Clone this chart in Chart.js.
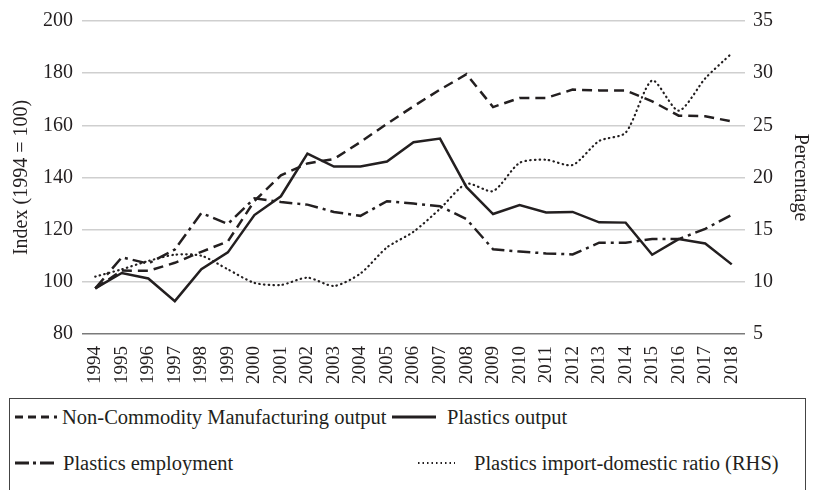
<!DOCTYPE html>
<html>
<head>
<meta charset="utf-8">
<script src="https://cdn.jsdelivr.net/npm/chart.js@4"></script>
<style>
  body { margin: 0; background: #fff; font-family: 'Liberation Serif', 'DejaVu Serif', serif; color: #231f20; }
  #wrap { position: relative; width: 817px; height: 490px; overflow: hidden; }
  #legend {
    position: absolute; left: 9px; top: 398px; width: 797px; height: 100px;
    border: 1.5px solid #444; box-sizing: border-box; font-size: 20.5px;
  }
  .item { position: absolute; white-space: nowrap; line-height: 24px; }
  .item svg { position: absolute; top: 9px; }
  .item span { position: absolute; top: 0; }
</style>
</head>
<body>
<div id="wrap">
  <canvas id="chart" width="817" height="395"></canvas>
  <div id="legend">
    <div class="item" style="left:0; top:6px;">
      <svg style="left:5px" width="42" height="6"><line x1="0" y1="3" x2="42" y2="3" stroke="#231f20" stroke-width="3" stroke-dasharray="8,5"/></svg>
      <span style="left:52px">Non-Commodity Manufacturing output</span></div>
    <div class="item" style="left:0; top:6px;">
      <svg style="left:382px" width="44" height="6"><line x1="0" y1="3" x2="44" y2="3" stroke="#231f20" stroke-width="3"/></svg>
      <span style="left:437px">Plastics output</span></div>
    <div class="item" style="left:0; top:52px;">
      <svg style="left:5px" width="42" height="6"><line x1="0" y1="3" x2="42" y2="3" stroke="#231f20" stroke-width="3" stroke-dasharray="14,4,3,4"/></svg>
      <span style="left:53px">Plastics employment</span></div>
    <div class="item" style="left:0; top:52px;">
      <svg style="left:405px" width="42" height="6"><line x1="3" y1="3" x2="40" y2="3" stroke="#231f20" stroke-width="2" stroke-dasharray="1.5,3"/></svg>
      <span style="left:464px">Plastics import-domestic ratio (RHS)</span></div>
  </div>
</div>
<script>
// --- DATA ---
const years = ['1994','1995','1996','1997','1998','1999','2000','2001','2002','2003','2004','2005',
  '2006','2007','2008','2009','2010','2011','2012','2013','2014','2015','2016','2017','2018'];
const nonCommodityOutput = [97.5, 104.3, 104.2, 107.3, 111.5, 115.5, 131, 140.8, 145.4, 147.1, 153.6, 160.6,
  167.3, 173.7, 179.6, 167, 170.5, 170.5, 173.7, 173.4, 173.4, 169.2, 163.7, 163.5, 161.5];
const plasticsOutput = [97.5, 103.4, 101.3, 92.6, 104.8, 111.3, 125.6, 132.8, 149.2, 144.2, 144.2, 146.1,
  153.5, 154.9, 136.3, 126, 129.4, 126.6, 126.8, 122.8, 122.7, 110.4, 116.4, 114.7, 106.7];
const plasticsEmployment = [97.5, 109.4, 107, 112.4, 126.4, 122.2, 132, 130.6, 129.6, 126.8, 125.3, 130.9,
  130, 129, 124, 112.5, 111.6, 110.9, 110.5, 115, 115, 116.4, 116.4, 120.3, 125.7];
const importDomesticRatio = [10.5, 11.2, 12.0, 12.6, 12.5, 11.2, 9.9, 9.7, 10.4, 9.6, 10.8, 13.3,
  14.8, 17, 19.4, 18.7, 21.4, 21.7, 21.2, 23.5, 24.3, 29.3, 26.4, 29.5, 31.9];
const indexTicks = [80, 100, 120, 140, 160, 180, 200];
const pctTicks = [5, 10, 15, 20, 25, 30, 35];

const ink = '#231f20';
const serif = "'Liberation Serif', 'DejaVu Serif', serif";

const ctx = document.getElementById('chart').getContext('2d');
new Chart(ctx, {
  type: 'line',
  data: {
    labels: years,
    datasets: [
      { label: 'Non-Commodity Manufacturing output', data: nonCommodityOutput, yAxisID: 'y',
        borderColor: ink, borderWidth: 2.5, borderDash: [10, 6], pointRadius: 0, tension: 0 },
      { label: 'Plastics output', data: plasticsOutput, yAxisID: 'y',
        borderColor: ink, borderWidth: 2.5, pointRadius: 0, tension: 0 },
      { label: 'Plastics employment', data: plasticsEmployment, yAxisID: 'y',
        borderColor: ink, borderWidth: 2.5, borderDash: [13, 5, 3, 5], pointRadius: 0, tension: 0 },
      { label: 'Plastics import-domestic ratio (RHS)', data: importDomesticRatio, yAxisID: 'y1',
        borderColor: ink, borderWidth: 2.2, borderDash: [0.5, 4.2], borderCapStyle: 'round',
        pointRadius: 0, tension: 0.25 }
    ]
  },
  options: {
    responsive: false,
    animation: false,
    devicePixelRatio: 1,
    layout: { padding: { top: 17, bottom: 0, left: 0, right: 0 } },
    plugins: { legend: { display: false }, tooltip: { enabled: false } },
    scales: {
      x: {
        offset: true,
        grid: { display: false },
        border: { display: false },
        ticks: { minRotation: 90, maxRotation: 90, autoSkip: false, color: ink, padding: 4,
                 font: { family: serif, size: 19 } },
        afterFit: s => { s.height = 61; }
      },
      y: {
        position: 'left',
        min: indexTicks[0], max: indexTicks[indexTicks.length - 1],
        afterBuildTicks: s => { s.ticks = indexTicks.map(v => ({ value: v })); },
        grid: { drawTicks: false, lineWidth: 1.5,
                color: c => c.tick && c.tick.value === 80 ? '#7a7a7a' : '#cfcfcf' },
        border: { display: false },
        ticks: { color: ink, padding: 9, font: { family: serif, size: 20 } },
        title: { display: true, text: 'Index (1994 = 100)', color: ink, padding: { top: 10, bottom: 0 },
                 font: { family: serif, size: 20 } },
        afterFit: s => { s.width = 82; }
      },
      y1: {
        position: 'right',
        min: pctTicks[0], max: pctTicks[pctTicks.length - 1],
        afterBuildTicks: s => { s.ticks = pctTicks.map(v => ({ value: v })); },
        grid: { display: false, drawTicks: false },
        border: { display: false },
        ticks: { color: ink, padding: 8, font: { family: serif, size: 20 } },
        title: { display: true, text: 'Percentage', color: ink, padding: { top: 5, bottom: 0 },
                 font: { family: serif, size: 20 } },
        afterFit: s => { s.width = 72; }
      }
    }
  }
});
</script>
</body>
</html>
